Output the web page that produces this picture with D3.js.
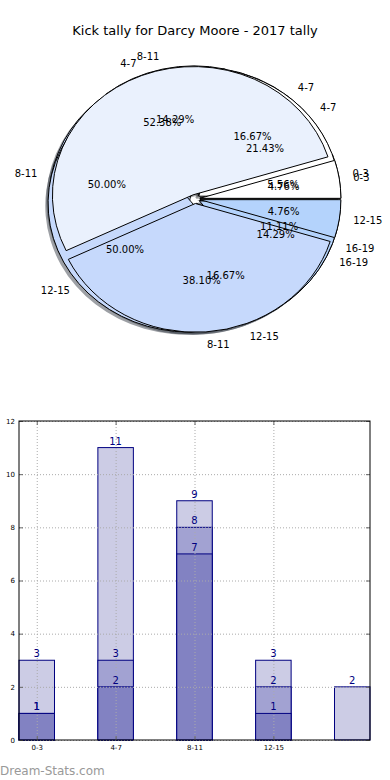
<!DOCTYPE html>
<html>
<head>
<meta charset="utf-8">
<script src="https://cdn.jsdelivr.net/npm/d3@7"></script>
<style>
  body { margin: 0; background: #fff; }
  svg { display: block; font-family: "DejaVu Sans", sans-serif; }
</style>
</head>
<body>
<div id="chart"></div>
<script>
  // categories and values
  var categories = ["0-3", "4-7", "8-11", "12-15", "16-19"];
  var xTickLabels = ["0-3", "4-7", "8-11", "12-15"];

  // three pies, drawn one over the other (last one is on top)
  var pieACats = ["0-3", "4-7", "8-11", "12-15", "16-19"];
  var pieAVals = [1, 3, 9, 3, 2];
  var pieCCats = ["4-7", "8-11", "12-15", "16-19"];
  var pieCVals = [3, 2, 7, 2];
  var pieBCats = ["0-3", "4-7", "8-11", "12-15"];
  var pieBVals = [1, 11, 8, 1];

  // bar series (overlaid, not stacked)
  var barLight = [3, 11, 9, 3, 2];
  var barMid = [1, 3, 8, 2, null];
  var barDark = [1, 2, 7, 1, null];

  var wedgeColors = ["#ffffff", "#eaf1fd", "#c6d9fc", "#b4d3fc", "#c8dafc"];

  var width = 390, height = 780;
  var svg = d3.select("#chart").append("svg")
      .attr("width", width).attr("height", height);

  svg.append("text")
      .attr("x", 195).attr("y", 35)
      .attr("text-anchor", "middle")
      .style("font-size", "13px")
      .text("Kick tally for Darcy Moore - 2017 tally");

  // ---------- pie part ----------
  var cx = 195, cy = 199, rx = 141, ry = 128.7, explode = 0.035;

  var pie = d3.pie().sort(null)
      .startAngle(Math.PI / 2)
      .endAngle(Math.PI / 2 - 2 * Math.PI);
  var arc = d3.arc().innerRadius(0).outerRadius(1);

  function buildSlices(cats, vals) {
    var total = d3.sum(vals);
    return pie(vals).map(function(d, i) {
      var mid = (d.startAngle + d.endAngle) / 2;
      return {
        arc: d, cat: cats[i], color: wedgeColors[i],
        pct: (100 * vals[i] / total).toFixed(2) + "%",
        ux: Math.sin(mid), uy: -Math.cos(mid)
      };
    });
  }

  var pies = [buildSlices(pieACats, pieAVals),
              buildSlices(pieCCats, pieCVals),
              buildSlices(pieBCats, pieBVals)];

  var shadowLayer = svg.append("g");
  var wedgeLayer = svg.append("g");
  var textLayer = svg.append("g").style("font-size", "10px");

  pies.forEach(function(slices) {
    slices.forEach(function(s) {
      var ox = cx + explode * s.ux * rx, oy = cy + explode * s.uy * ry;
      var c = d3.rgb(s.color);
      shadowLayer.append("path")
          .attr("d", arc(s.arc))
          .attr("transform", "translate(" + (ox - 0.02 * rx) + "," + (oy + 0.02 * ry) + ") scale(" + rx + "," + ry + ")")
          .attr("fill", d3.rgb(c.r * 0.3, c.g * 0.3, c.b * 0.3))
          .attr("opacity", 0.5);
      wedgeLayer.append("path")
          .attr("d", arc(s.arc))
          .attr("transform", "translate(" + ox + "," + oy + ") scale(" + rx + "," + ry + ")")
          .attr("fill", s.color)
          .attr("stroke", "#000")
          .attr("stroke-width", 1)
          .attr("vector-effect", "non-scaling-stroke");
      // category label at 1.1 r, percent at 0.6 r
      textLayer.append("text")
          .attr("x", ox + 1.1 * s.ux * rx)
          .attr("y", oy + 1.1 * s.uy * ry)
          .attr("text-anchor", s.ux > 0 ? "start" : "end")
          .attr("dominant-baseline", "central")
          .text(s.cat);
      textLayer.append("text")
          .attr("x", ox + 0.6 * s.ux * rx)
          .attr("y", oy + 0.6 * s.uy * ry)
          .attr("text-anchor", "middle")
          .attr("dominant-baseline", "central")
          .text(s.pct);
    });
  });

  // ---------- bar part ----------
  var plotL = 19, plotR = 370, plotT = 421, plotB = 740;
  var x = d3.scaleLinear().domain([-0.225, 4.225]).range([plotL, plotR]);
  var y = d3.scaleLinear().domain([0, 12]).range([plotB, plotT]);
  var barW = x(0.45) - x(0);

  var series = [
    {vals: barLight, fill: "#ccccE5"},
    {vals: barMid, fill: "#a2a2d2"},
    {vals: barDark, fill: "#8282c2"}
  ];

  var barG = svg.append("g");
  series.forEach(function(s) {
    var data = s.vals.map(function(v, i) { return {i: i, v: v}; })
        .filter(function(d) { return d.v != null; });
    barG.selectAll(null).data(data).enter().append("rect")
        .attr("x", function(d) { return x(d.i) - barW / 2; })
        .attr("y", function(d) { return y(d.v); })
        .attr("width", barW)
        .attr("height", function(d) { return y(0) - y(d.v); })
        .attr("fill", s.fill)
        .attr("stroke", "#000080")
        .attr("stroke-width", 1);
  });

  // dotted grid, on top of bars
  var grid = svg.append("g")
      .attr("stroke", "#aaa").attr("stroke-width", 1)
      .attr("stroke-dasharray", "1,2");
  grid.selectAll(null).data(y.ticks(6)).enter().append("line")
      .attr("x1", plotL).attr("x2", plotR)
      .attr("y1", function(d) { return y(d) + 0.5; })
      .attr("y2", function(d) { return y(d) + 0.5; });
  grid.selectAll(null).data(d3.range(xTickLabels.length)).enter().append("line")
      .attr("y1", plotT).attr("y2", plotB)
      .attr("x1", function(d) { return x(d) + 0.5; })
      .attr("x2", function(d) { return x(d) + 0.5; });

  // value labels
  var labG = svg.append("g")
      .attr("fill", "#000080")
      .attr("text-anchor", "middle")
      .style("font-size", "10px");
  series.forEach(function(s) {
    s.vals.forEach(function(v, i) {
      if (v == null) return;
      labG.append("text")
          .attr("x", x(i)).attr("y", y(v) - 3)
          .text(v);
    });
  });

  // axes
  svg.append("g")
      .attr("transform", "translate(" + plotL + ",0)")
      .call(d3.axisLeft(y).ticks(6).tickSize(-4).tickPadding(4));
  svg.append("g")
      .attr("transform", "translate(" + plotR + ",0)")
      .call(d3.axisRight(y).ticks(6).tickSize(-4).tickFormat(""));
  svg.append("g")
      .attr("transform", "translate(0," + plotB + ")")
      .call(d3.axisBottom(x).tickValues(d3.range(xTickLabels.length))
          .tickFormat(function(d) { return xTickLabels[d]; })
          .tickSize(-4).tickPadding(5));
  svg.append("g")
      .attr("transform", "translate(0," + plotT + ")")
      .call(d3.axisTop(x).tickValues(d3.range(xTickLabels.length))
          .tickSize(-4).tickFormat(""));
  svg.selectAll(".domain").remove();
  svg.selectAll(".tick text")
      .style("font-size", "7px")
      .style("font-family", "'DejaVu Sans', sans-serif");
  svg.selectAll(".tick line").attr("stroke", "#666");

  svg.append("rect")
      .attr("x", plotL).attr("y", plotT)
      .attr("width", plotR - plotL).attr("height", plotB - plotT)
      .attr("fill", "none").attr("stroke", "#000").attr("stroke-width", 1);

  svg.append("text")
      .attr("x", 0).attr("y", 775)
      .attr("fill", "#999")
      .style("font-size", "12px")
      .text("Dream-Stats.com");
</script>
</body>
</html>
